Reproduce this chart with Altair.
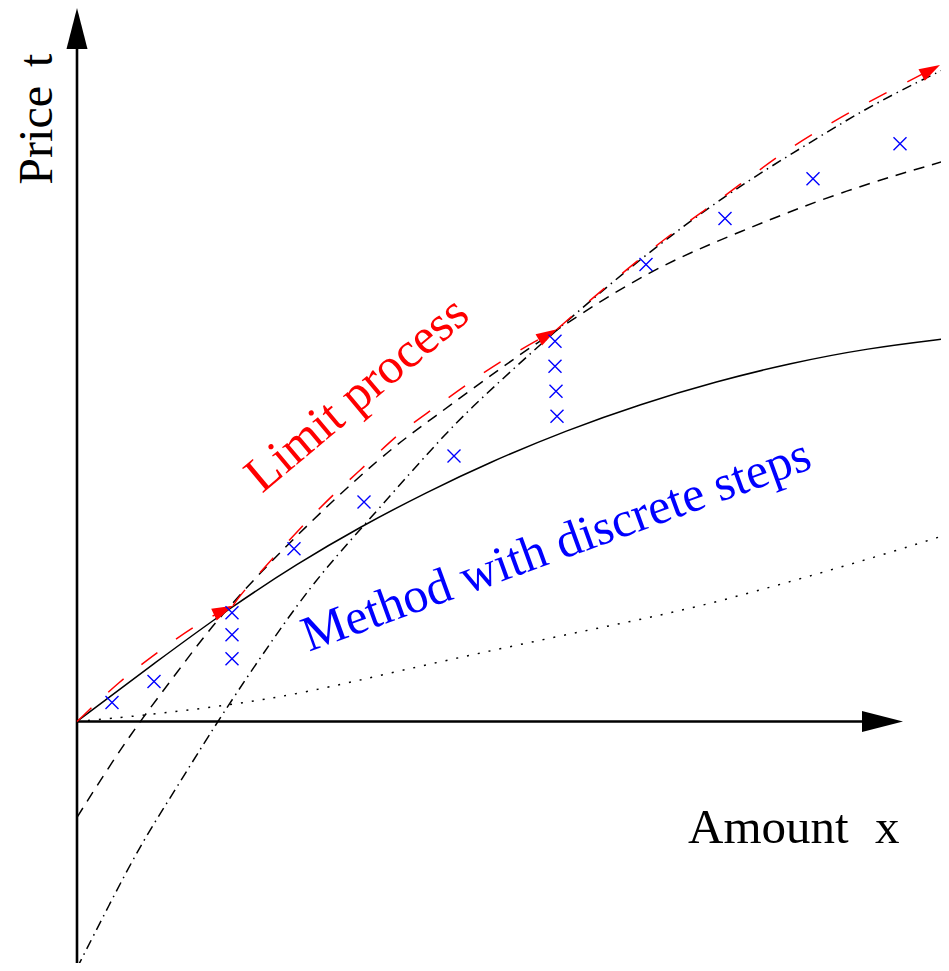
import altair as alt
import pandas as pd

# ---- data (coordinates relative to the origin of the drawn axes) ----
solid_x = [0, 78, 156, 220, 283, 350, 413, 490, 563, 640, 713, 790, 872]
solid_y = [0, 59, 116, 158, 195, 230, 260, 292, 318, 341, 359, 374, 384]

dotted_x = [0, 66, 150, 230, 323, 423, 523, 620, 723, 796, 872]
dotted_y = [0, 6, 16, 29, 51, 73, 94, 114, 143, 164, 188]

dashed_x = [0, 36, 65, 103, 140, 216, 306, 356, 423, 480, 573, 663, 763, 872]
dashed_y = [-96, -39, 3, 53, 103, 184, 268, 304, 354, 393, 453, 491, 531, 563]

dashdot_x = [0, 33, 66, 100, 140, 213, 253, 300, 370, 413, 480, 563, 653, 723, 796, 872]
dashdot_y = [-247, -182, -119, -66, 0, 108, 159, 211, 291, 332, 393, 464, 531, 574, 619, 656]

limit1_x = [0, 43, 80, 120, 156]
limit1_y = [0, 41, 69, 98, 116]
limit2_x = [156, 166, 246, 283, 320, 353, 390, 426, 480]
limit2_y = [116, 131, 219, 251, 288, 311, 338, 363, 393]
limit3_x = [480, 523, 590, 626, 663, 700, 736, 773, 811, 863]
limit3_y = [393, 431, 486, 511, 538, 566, 589, 611, 631, 658]

arrow_x = [156, 480, 863]
arrow_y = [116, 393, 658]
arrow_angle = [335, 330, 331]

steps_x = [35, 77, 155, 155, 155, 217, 287, 377, 478, 478, 479, 480, 569, 648, 736, 823]
steps_y = [19, 40, 109, 87, 63, 173, 220, 266, 381, 356, 331, 306, 458, 504, 544, 579]

axis_v_x = [0, 0]
axis_v_y = [-252, 690]
axis_h_x = [0, 800]
axis_h_y = [0, 0]
axis_tip_x = [0, 826]
axis_tip_y = [715, 0]
axis_tip_angle = [270, 0]

labels = ["Price", "t", "Amount", "x", "Limit process", "Method with discrete steps"]
label_x = [-25, -25, 611, 798, 185, 232]
label_y = [538, 656, -122, -122, 228, 70]
label_angle = [270, 270, 0, 0, 320, 340]
label_size = [48, 48, 49, 49, 50, 50]
label_color = ["black", "black", "black", "black", "red", "blue"]

X_DOM = [-69, 864]
Y_DOM = [-242, 713]

FONT = "Liberation Serif"


def xenc():
    return alt.X("x:Q", scale=alt.Scale(domain=X_DOM, nice=False, zero=False), axis=None)


def yenc():
    return alt.Y("y:Q", scale=alt.Scale(domain=Y_DOM, nice=False, zero=False), axis=None)


def curve(xv, yv, color="black", width=1.5, dash=None, interp="basis"):
    df = pd.DataFrame({"x": xv, "y": yv, "o": list(range(len(xv)))})
    kw = dict(interpolate=interp, color=color, strokeWidth=width, clip=True, strokeCap="butt")
    if dash is not None:
        kw["strokeDash"] = dash
    return alt.Chart(df).mark_line(**kw).encode(x=xenc(), y=yenc(), order="o:Q")


layers = []

# axes
layers.append(curve(axis_v_x, axis_v_y, width=2.6, interp="linear"))
layers.append(curve(axis_h_x, axis_h_y, width=2.6, interp="linear"))
axis_tips = pd.DataFrame({"x": axis_tip_x, "y": axis_tip_y, "a": axis_tip_angle})
layers.append(
    alt.Chart(axis_tips)
    .mark_point(shape="M0,0L-2,-0.512L-2,0.512Z", filled=True, color="black", size=1681, opacity=1)
    .encode(x=xenc(), y=yenc(), angle=alt.Angle("a:Q", scale=None))
)

# curves
layers.append(curve(dotted_x, dotted_y, dash=[2, 9]))
layers.append(curve(dashdot_x, dashdot_y, dash=[10, 5, 1.5, 5]))
layers.append(curve(dashed_x, dashed_y, dash=[11, 8]))
layers.append(curve(solid_x, solid_y))

# limit process (red)
layers.append(curve(limit1_x, limit1_y, color="red", dash=[20, 23]))
layers.append(curve(limit2_x, limit2_y, color="red", dash=[20, 23]))
layers.append(curve(limit3_x, limit3_y, color="red", dash=[20, 23]))
arrows = pd.DataFrame({"x": arrow_x, "y": arrow_y, "a": arrow_angle})
layers.append(
    alt.Chart(arrows)
    .mark_point(shape="M0,0L-2,-0.62L-2,0.62Z", filled=True, color="red", size=441, opacity=1)
    .encode(x=xenc(), y=yenc(), angle=alt.Angle("a:Q", scale=None))
)

# discrete steps (blue crosses)
steps = pd.DataFrame({"x": steps_x, "y": steps_y})
layers.append(
    alt.Chart(steps)
    .mark_point(shape="M-1,-1L1,1M-1,1L1,-1", filled=False, stroke="blue", strokeWidth=1.4, size=169, opacity=1)
    .encode(x=xenc(), y=yenc())
)

# labels
lab = pd.DataFrame({
    "x": label_x, "y": label_y, "t": labels, "a": label_angle,
    "s": label_size, "c": label_color,
})
layers.append(
    alt.Chart(lab)
    .mark_text(align="left", baseline="alphabetic", font=FONT)
    .encode(
        x=xenc(),
        y=yenc(),
        text="t:N",
        angle=alt.Angle("a:Q", scale=None),
        size=alt.Size("s:Q", scale=None),
        color=alt.Color("c:N", scale=None),
    )
)

chart = (
    alt.layer(*layers)
    .properties(
        width=933,
        height=955,
        padding=0,
        autosize=alt.AutoSizeParams(type="fit", contains="padding"),
        background="white",
    )
    .configure_view(stroke=None)
)

chart.save("out.html", embed_options={"renderer": "svg", "actions": False})
